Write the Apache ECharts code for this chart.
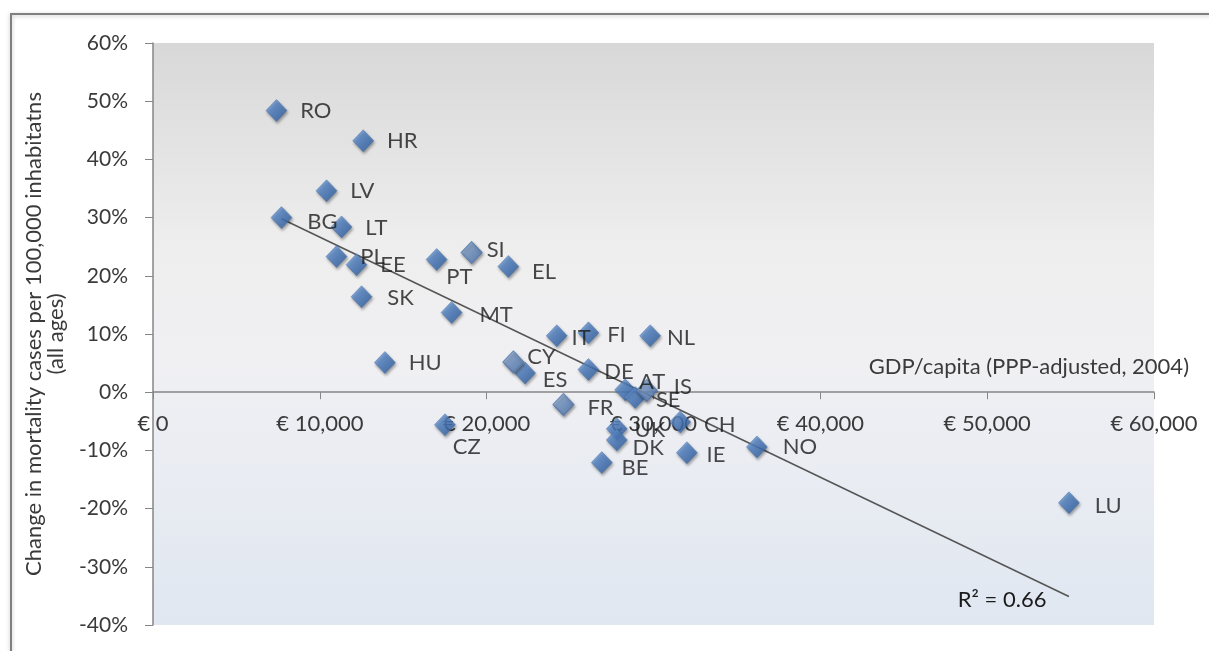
<!DOCTYPE html>
<html>
<head>
<meta charset="utf-8">
<script src="https://cdn.jsdelivr.net/npm/echarts@6/dist/echarts.min.js"></script>
<style>
html,body{margin:0;padding:0;background:#fff;}
#chart{width:1209px;height:651px;}
</style>
</head>
<body>
<div id="chart"></div>
<script>
// ---- data ----
const countries = ['RO','HR','LV','BG','LT','PL','EE','SK','HU','PT','SI','EL','MT','IT','FI','NL','CY','ES','DE','AT','IS','SE','FR','CZ','UK','DK','CH','IE','BE','NO','LU'];
const gdpPerCapita = [7400,12600,10400,7700,11300,11000,12200,12500,13900,17000,19100,21300,17900,24200,26100,29800,21600,22300,26100,28300,29600,28900,24600,17500,27800,27800,31600,32000,26900,36200,54900];
const mortalityChange = [48.4,43.2,34.6,30.0,28.4,23.3,21.9,16.4,5.1,22.8,24.0,21.6,13.7,9.7,10.2,9.7,5.2,3.3,3.9,0.4,0.3,-0.9,-2.1,-5.6,-6.3,-8.2,-5.1,-10.4,-12.1,-9.4,-19.0];
const hatchedCountries = ['SI','CY','FR','IS'];
const trendGdp = [7700, 54900];
const trendChange = [29.8, -35.1];
const rSquaredText = 'R² = 0.66';
const xTicks = {min: 0, max: 60000, interval: 10000};
const yTicks = {min: -40, max: 60, interval: 10};
const xAxisTitle = 'GDP/capita (PPP-adjusted, 2004)';
const yAxisTitle = 'Change in mortality cases per 100,000 inhabitatns\n(all ages)';

// ---- label nudges (layout only) ----
const labelNudge = {
  BG:[2,4], LT:[0,1], SK:[2,1], PT:[-14,17], SI:[-9,-3], EL:[0,5], MT:[4,2],
  IT:[-9,2], FI:[-5,2], NL:[-7,2], CY:[-10,-5], ES:[-6,7], DE:[-8,2], AT:[-10,-8],
  IS:[3,-4], SE:[-3,2], FR:[0,3], CZ:[-16,22], UK:[-6,1], DK:[-8,8], CH:[0,3],
  IE:[-4,2], BE:[-4,5], NO:[2,0], LU:[2,3]
};

const FONT = 'Lato';
const GRID = {left: 153, right: 55, top: 43, bottom: 26};
const gridHeight = 651 - GRID.top - GRID.bottom;
// move the x axis (line, ticks, labels, name) up to the 0% line
const xAxisOffset = -((0 - yTicks.min) / (yTicks.max - yTicks.min)) * gridHeight;

const mainColor = new echarts.graphic.LinearGradient(0,0,1,1,[
  {offset:0,color:'#7aa6dd'},{offset:0.5,color:'#4a7cc0'},{offset:1,color:'#2c5a98'}]);
const hatchColor = new echarts.graphic.LinearGradient(0,0,1,1,[
  {offset:0,color:'#a9c1e2'},{offset:0.5,color:'#6f93c6'},{offset:1,color:'#4b71a8'}]);

function buildPoints(hatched){
  const out = [];
  countries.forEach((c,i)=>{
    const isH = hatchedCountries.indexOf(c) >= 0;
    if (isH !== hatched) return;
    out.push({
      name: c,
      value: [gdpPerCapita[i], mortalityChange[i]],
      label: {offset: labelNudge[c] || [0,0]}
    });
  });
  return out;
}

const scatterCommon = {
  type: 'scatter',
  symbol: 'diamond',
  symbolSize: [21, 22],
  label: {
    show: true, position: 'right', distance: 13,
    formatter: p => p.name,
    fontFamily: FONT, fontSize: 22, color: '#1a1a1a'
  },
  z: 3
};

const chart = echarts.init(document.getElementById('chart'), null, {renderer: 'canvas'});
chart.setOption({
  backgroundColor: '#ffffff',
  animation: false,
  graphic: [{
    type: 'rect', z: -10,
    shape: {x: 11, y: 14, width: 1400, height: 900},
    style: {fill: 'none', stroke: '#7f7f7f', lineWidth: 2,
            shadowBlur: 4, shadowColor: 'rgba(0,0,0,0.25)', shadowOffsetY: 1}
  }],
  grid: {
    left: GRID.left, right: GRID.right, top: GRID.top, bottom: GRID.bottom,
    show: true, borderWidth: 0,
    backgroundColor: new echarts.graphic.LinearGradient(0,0,0,1,[
      {offset:0,color:'#d8d8d8'},{offset:0.35,color:'#eeeeee'},
      {offset:0.55,color:'#f0f0f3'},{offset:1,color:'#e0e7f1'}])
  },
  xAxis: {
    type: 'value', position: 'bottom', offset: xAxisOffset,
    min: xTicks.min, max: xTicks.max, interval: xTicks.interval,
    name: xAxisTitle,
    nameLocation: 'end', nameGap: 35,
    nameTextStyle: {fontFamily: FONT, fontSize: 22, color: '#3a3a3a',
                    align: 'right', verticalAlign: 'bottom', padding: [0,0,14,0]},
    axisLine: {onZero: false, lineStyle: {color: '#868686', width: 1.5}},
    axisTick: {show: true, length: 7, lineStyle: {color: '#868686'}},
    axisLabel: {
      margin: 21, fontFamily: FONT, fontSize: 22, color: '#3a3a3a',
      formatter: v => '€ ' + Number(v).toLocaleString('en-US')
    },
    splitLine: {show: false}
  },
  yAxis: {
    type: 'value',
    min: yTicks.min, max: yTicks.max, interval: yTicks.interval,
    name: yAxisTitle,
    nameLocation: 'middle', nameGap: 86,
    nameTextStyle: {fontFamily: FONT, fontSize: 22, color: '#3a3a3a', lineHeight: 22},
    axisLine: {show: true, lineStyle: {color: '#868686', width: 1.5}},
    axisTick: {show: true, length: 8, lineStyle: {color: '#868686'}},
    axisLabel: {margin: 25, fontFamily: FONT, fontSize: 21, color: '#3a3a3a',
                formatter: '{value}%'},
    splitLine: {show: false}
  },
  series: [
    {
      type: 'line',
      data: trendGdp.map((g,i)=>{
        const d = {value: [g, trendChange[i]]};
        if (i === trendGdp.length - 1) {
          d.label = {show: true, position: 'left', distance: 22, offset: [0,3],
                     formatter: rSquaredText, fontFamily: FONT, fontSize: 22, color: '#1a1a1a'};
        }
        return d;
      }),
      showSymbol: true, symbol: 'circle', symbolSize: 1,
      itemStyle: {color: 'rgba(0,0,0,0)'},
      lineStyle: {color: '#555555', width: 1.5},
      z: 2
    },
    Object.assign({}, scatterCommon, {
      data: buildPoints(false),
      itemStyle: {color: mainColor, borderColor: '#3b6aa8', borderWidth: 0.5,
                  shadowBlur: 3, shadowColor: 'rgba(0,0,0,0.45)', shadowOffsetX: 1, shadowOffsetY: 2}
    }),
    Object.assign({}, scatterCommon, {
      data: buildPoints(true),
      itemStyle: {color: hatchColor, borderColor: '#4f75ad', borderWidth: 1,
                  shadowBlur: 3, shadowColor: 'rgba(0,0,0,0.45)', shadowOffsetX: 1, shadowOffsetY: 2}
    })
  ]
});
</script>
</body>
</html>
